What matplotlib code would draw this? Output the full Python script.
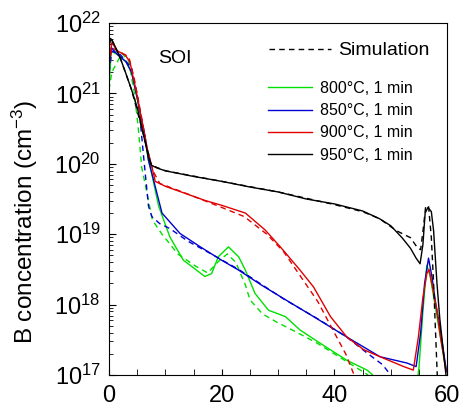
import numpy as np
import matplotlib
matplotlib.use("Agg")
import matplotlib.pyplot as plt
from matplotlib.ticker import MultipleLocator, LogLocator, NullFormatter
from matplotlib.lines import Line2D

plt.rcParams['font.family'] = ['Liberation Sans', 'DejaVu Sans']
plt.rcParams['mathtext.fontset'] = 'custom'
plt.rcParams['mathtext.rm'] = 'Liberation Sans'
plt.rcParams['mathtext.it'] = 'Liberation Sans'

# depth (nm) and log10 of B concentration (cm^-3)
d_950 = [0, 0.3, 1, 2, 3, 4, 5, 6, 7, 7.5, 8.5, 10, 15, 20, 25, 30, 35, 40, 45, 48,
         50, 52, 53.5, 54.5, 55.2, 55.7, 56.1, 56.6, 57.2, 57.6, 58.2, 58.7, 59.3, 59.8]
c_950 = [21.65, 21.78, 21.68, 21.5, 21.28, 21.05, 20.8, 20.45, 20.1, 19.98, 19.94, 19.9,
         19.82, 19.75, 19.67, 19.6, 19.5, 19.43, 19.33, 19.22, 19.12, 18.95, 18.8, 18.66,
         18.58, 18.85, 19.3, 19.38, 19.32, 19.05, 18.3, 17.8, 17.36, 17.0]
d_950s = [0, 0.3, 2, 4, 6, 7.5, 10, 20, 30, 40, 45, 48, 51, 53.5, 54.8, 55.3, 55.8,
          56.2, 56.7, 57.2, 57.6, 58.0, 58.3]
c_950s = [21.7, 21.8, 21.5, 21.05, 20.45, 19.98, 19.9, 19.75, 19.6, 19.42, 19.32, 19.22,
          19.05, 18.95, 18.8, 18.78, 19.1, 19.4, 19.4, 18.95, 18.3, 17.5, 16.9]

d_900 = [0, 0.5, 1.5, 2.8, 3.7, 4.9, 5.8, 6.7, 7.6, 8.2, 10, 13.5, 17, 20, 24.2, 27.7,
         30.4, 33.9, 36.3, 39.3, 42.2, 45.2, 48.1, 52.3, 54.0, 54.9, 55.7, 56.4, 56.8,
         57.4, 58.2, 58.8, 59.4, 59.8]
c_900 = [21.45, 21.72, 21.6, 21.55, 21.45, 21.0, 20.62, 20.24, 19.96, 19.75, 19.68, 19.58,
         19.48, 19.41, 19.3, 19.06, 18.82, 18.49, 18.25, 17.83, 17.54, 17.36, 17.26, 17.12,
         17.07, 17.54, 18.1, 18.44, 18.5, 18.25, 17.92, 17.55, 17.26, 17.05]
d_900s = [0, 0.5, 2, 3.5, 4.5, 5.8, 6.8, 7.8, 9, 13, 20, 24, 28, 31, 34, 37, 40, 42, 43.5]
c_900s = [21.4, 21.65, 21.58, 21.52, 21.2, 20.65, 20.2, 19.9, 19.72, 19.6, 19.38, 19.25,
          19.0, 18.75, 18.4, 18.05, 17.6, 17.3, 17.0]

d_850 = [0, 0.4, 1.5, 3, 4, 5.2, 6.4, 7.0, 7.9, 9.4, 12.6, 16.2, 20, 23, 27, 31.3,
         36.3, 42.2, 48.1, 52.9, 54.5, 55.3, 56.0, 56.7, 57.3, 58.0, 58.8, 59.5, 59.9]
c_850 = [21.35, 21.65, 21.55, 21.45, 21.3, 20.86, 20.39, 20.05, 19.77, 19.3, 19.01, 18.82,
         18.63, 18.49, 18.28, 18.07, 17.83, 17.54, 17.26, 17.17, 17.12, 17.6, 18.3,
         18.66, 18.4, 18.0, 17.64, 17.26, 17.05]
d_850s = [0, 0.5, 2, 4, 5.2, 6.2, 7.0, 7.6, 9, 10.8, 14, 17, 23, 31, 37, 42, 46, 48.5, 50]
c_850s = [21.3, 21.6, 21.55, 21.36, 20.9, 20.05, 19.4, 19.25, 19.15, 19.08, 18.9, 18.77,
          18.5, 18.08, 17.8, 17.55, 17.3, 17.15, 17.0]

d_800 = [0, 0.4, 1.5, 3, 4, 5.2, 6.4, 7.0, 7.6, 8.8, 10.8, 13.2, 14.7, 17.0, 18.2, 19.4,
         21.2, 23, 24.2, 25.9, 28.3, 31.3, 33.9, 37.5, 42.2, 45.8, 47.5, 50, 54.5, 55.0,
         55.7, 56.4, 57.0, 58.2, 59.4, 59.9]
c_800 = [21.1, 21.6, 21.55, 21.45, 21.3, 20.85, 20.35, 20.05, 19.85, 19.4, 18.96, 18.63,
         18.54, 18.40, 18.44, 18.68, 18.82, 18.68, 18.49, 18.16, 17.92, 17.83, 17.64, 17.45,
         17.21, 17.07, 16.95, 16.8, 16.8, 17.1, 17.9, 18.56, 18.4, 17.83, 17.26, 17.05]
d_800s = [0, 0.5, 2.3, 3.5, 4.5, 5.2, 5.8, 6.7, 7.7, 9.4, 12.2, 15.3, 17.5, 19.5, 21,
          22.5, 24.2, 25, 27.2, 29.8, 33, 37, 42, 46]
c_800s = [21.05, 21.3, 21.57, 21.45, 21.0, 20.5, 19.95, 19.6, 19.2, 19.0, 18.72, 18.55,
          18.45, 18.62, 18.72, 18.6, 18.28, 18.07, 17.87, 17.75, 17.62, 17.45, 17.2, 17.0]

labels = ['800°C, 1 min', '850°C, 1 min', '900°C, 1 min', '950°C, 1 min']
colors = ['#00e000', '#0000d0', '#e00000', '#000000']
meas = [(d_800, c_800), (d_850, c_850), (d_900, c_900), (d_950, c_950)]
sims = [(d_800s, c_800s), (d_850s, c_850s), (d_900s, c_900s), (d_950s, c_950s)]

fig = plt.figure(figsize=(4.6, 4.09), dpi=100)
ax = fig.add_axes([0.237, 0.083, 0.735, 0.861])

for (d, c), (ds, cs), col in zip(meas, sims, colors):
    ax.plot(d, 10 ** np.array(c), color=col, lw=1.0)
    ax.plot(ds, 10 ** np.array(cs), color=col, lw=1.0, ls=(0, (4, 3)))

ax.set_yscale('log')
ax.set_xlim(0, 60)
ax.set_ylim(1e17, 1e22)
ax.xaxis.set_major_locator(MultipleLocator(20))
ax.xaxis.set_minor_locator(MultipleLocator(5))
ax.yaxis.set_major_locator(LogLocator(base=10, numticks=10))
ax.yaxis.set_minor_locator(LogLocator(base=10, subs=np.arange(2, 10), numticks=10))
ax.yaxis.set_minor_formatter(NullFormatter())
ax.tick_params(which='both', direction='in', top=False, right=False)
ax.tick_params(axis='x', which='both', length=4, labelsize=17, pad=7)
ax.tick_params(axis='y', which='major', length=5, labelsize=17, pad=6)
ax.tick_params(axis='y', which='minor', length=3)

ax.set_ylabel('B concentration (cm$^{-3}$)', fontsize=17.5)
ax.yaxis.set_label_coords(-0.205, 0.435)

ax.text(0.145, 0.9, 'SOI', transform=ax.transAxes, fontsize=14, va='center')

sim_handle = [Line2D([], [], color='black', lw=1.0, ls=(0, (4, 3)))]
leg1 = ax.legend(sim_handle, ['Simulation'], loc='upper right', frameon=False,
                 fontsize=14, handlelength=3.2, handletextpad=0.36,
                 bbox_to_anchor=(1.0, 0.996))
ax.add_artist(leg1)
handles = [Line2D([], [], color=c, lw=1.0) for c in colors]
ax.legend(handles, labels, loc='upper right', frameon=False, fontsize=11.5,
          handlelength=2.7, handletextpad=0.55, labelspacing=0.45,
          bbox_to_anchor=(0.942, 0.876))

fig.savefig('out.png', dpi=100)
